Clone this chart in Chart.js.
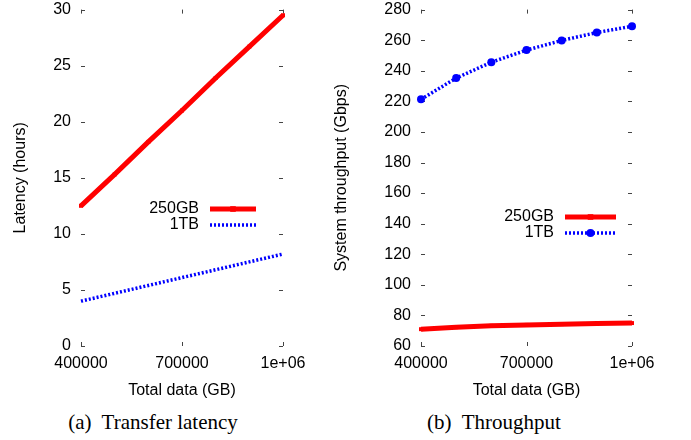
<!DOCTYPE html>
<html>
<head>
<meta charset="utf-8">
<script src="https://cdn.jsdelivr.net/npm/chart.js@4.4.0/dist/chart.umd.min.js"></script>
<style>
  body { margin: 0; background: #fff; width: 691px; height: 440px; position: relative; overflow: hidden; }
  .box { position: absolute; top: 0; height: 400px; }
  #boxA { left: 0; width: 320px; }
  #boxB { left: 320px; width: 371px; }
  .caption { position: absolute; top: 410px; font-family: "Liberation Serif", serif; font-size: 21px; color: #000;
             transform: translateX(-50%); white-space: nowrap; }
</style>
</head>
<body>
<div class="box" id="boxA"><canvas id="latencyChart"></canvas></div>
<div class="box" id="boxB"><canvas id="throughputChart"></canvas></div>
<div class="caption" style="left:153px">(a)&nbsp; Transfer latency</div>
<div class="caption" style="left:494px">(b)&nbsp; Throughput</div>

<script>
// data
const totalData = [400000, 500000, 600000, 700000, 800000, 900000, 1000000];
const latency250GB = [12.5, 15.3, 18.2, 21.0, 23.9, 26.7, 29.5];
const latency1TB = [4.0, 4.7, 5.4, 6.1, 6.8, 7.5, 8.2];
const throughput250GB = [71.0, 72.3, 73.2, 73.8, 74.3, 74.7, 75.0];
const throughput1TB = [221.3, 235.2, 245.6, 253.5, 259.8, 265.0, 269.1];

// tick
const xTicks = [400000, 700000, 1000000];
const xTickLabels = ['400000', '700000', '1e+06'];
const latencyTicks = [0, 5, 10, 15, 20, 25, 30];
const throughputTicks = [60, 80, 100, 120, 140, 160, 180, 200, 220, 240, 260, 280];

const FONT = '"Liberation Sans", Arial, sans-serif';

const toPoints = (ys) => totalData.map((x, i) => ({ x: x, y: ys[i] }));

// tick kecil ke dalam ala gnuplot
const gpTicks = {
    id: 'gpTicks',
    beforeDatasetsDraw(chart) {
        const { ctx, chartArea: a, scales } = chart;
        ctx.save();
        ctx.strokeStyle = '#444';
        ctx.lineWidth = 1;
        ctx.beginPath();
        scales.y.ticks.forEach(t => {
            const y = Math.round(scales.y.getPixelForValue(t.value)) + 0.5;
            ctx.moveTo(a.left, y); ctx.lineTo(a.left + 4, y);
            ctx.moveTo(a.right - 4, y); ctx.lineTo(a.right, y);
        });
        scales.x.ticks.forEach(t => {
            const x = Math.round(scales.x.getPixelForValue(t.value)) + 0.5;
            ctx.moveTo(x, a.bottom); ctx.lineTo(x, a.bottom - 4);
            ctx.moveTo(x, a.top); ctx.lineTo(x, a.top + 4);
        });
        ctx.stroke();
        ctx.restore();
    }
};

// legend: teks di kiri, contoh garis di kanan
const gpLegend = {
    id: 'gpLegend',
    afterDatasetsDraw(chart, args, opts) {
        const ctx = chart.ctx;
        ctx.save();
        ctx.font = '16px ' + FONT;
        ctx.textAlign = 'right';
        ctx.textBaseline = 'middle';
        chart.data.datasets.forEach((ds, i) => {
            const y = opts.y + i * opts.rowHeight;
            ctx.fillStyle = '#000';
            ctx.fillText(ds.label, opts.x, y);
            const x0 = opts.x + 11;
            const x1 = x0 + opts.sample;
            ctx.strokeStyle = ds.borderColor;
            ctx.lineWidth = ds.borderWidth;
            ctx.setLineDash(ds.borderDash || []);
            ctx.beginPath();
            ctx.moveTo(x0, y);
            ctx.lineTo(x1, y);
            ctx.stroke();
            ctx.setLineDash([]);
            if (ds.pointRadius > 0) {
                const r = ds.pointRadius;
                const xm = (x0 + x1) / 2;
                ctx.fillStyle = ds.pointBackgroundColor;
                ctx.beginPath();
                if (ds.pointStyle === 'circle') ctx.arc(xm, y, r, 0, Math.PI * 2);
                else ctx.rect(xm - r, y - r, r * 2, r * 2);
                ctx.fill();
            }
        });
        ctx.restore();
    }
};

function makeChart(canvasId, opt) {
    return new Chart(document.getElementById(canvasId), {
        type: 'line',
        data: { datasets: opt.datasets },
        plugins: [gpTicks, gpLegend],
        options: {
            responsive: true,
            maintainAspectRatio: false,
            animation: false,
            devicePixelRatio: 1,
            layout: { padding: { top: 0, bottom: 0, left: 0, right: opt.padRight } },
            plugins: {
                legend: { display: false },
                tooltip: { enabled: false },
                gpLegend: opt.legend
            },
            scales: {
                x: {
                    type: 'linear',
                    min: 400000,
                    max: 1000000,
                    afterBuildTicks: s => { s.ticks = xTicks.map(v => ({ value: v })); },
                    afterFit: s => { s.height = 54; },
                    grid: { drawOnChartArea: false, drawTicks: true, tickLength: 8, color: 'rgba(0,0,0,0)' },
                    border: { display: false },
                    ticks: {
                        padding: 0,
                        maxRotation: 0,
                        color: '#000',
                        font: { family: FONT, size: 16 },
                        callback: (v, i) => xTickLabels[i]
                    },
                    title: {
                        display: true,
                        text: 'Total data (GB)',
                        color: '#000',
                        font: { family: FONT, size: 16 },
                        padding: { top: 0, bottom: 0 }
                    }
                },
                y: {
                    min: opt.yTicks[0],
                    max: opt.yTicks[opt.yTicks.length - 1],
                    afterBuildTicks: s => { s.ticks = opt.yTicks.map(v => ({ value: v })); },
                    afterFit: s => { s.width = opt.yWidth; },
                    grid: { drawOnChartArea: false, drawTicks: true, tickLength: 10, color: 'rgba(0,0,0,0)' },
                    border: { display: false },
                    ticks: {
                        padding: 0,
                        color: '#000',
                        font: { family: FONT, size: 16 }
                    },
                    title: {
                        display: true,
                        text: opt.yTitle,
                        color: '#000',
                        font: { family: FONT, size: 16 },
                        padding: { top: opt.titlePad, bottom: 0 }
                    }
                }
            }
        }
    });
}

const latencyChart = makeChart('latencyChart', {
    yTicks: latencyTicks,
    yTitle: 'Latency (hours)',
    yWidth: 81,
    titlePad: 11,
    padRight: 37,
    legend: { x: 199, y: 209, rowHeight: 16, sample: 46 },
    datasets: [{
        label: '250GB',
        data: toPoints(latency250GB),
        borderColor: '#ff0000',
        borderWidth: 5,
        pointStyle: 'rect',
        pointRadius: 2.8,
        pointBorderWidth: 0,
        pointBackgroundColor: '#ff0000',
        pointBorderColor: '#ff0000',
        clip: false
    }, {
        label: '1TB',
        data: toPoints(latency1TB),
        borderColor: '#0000ff',
        borderWidth: 3.5,
        borderDash: [2, 2],
        pointRadius: 0,
        clip: false
    }]
});

const throughputChart = makeChart('throughputChart', {
    yTicks: throughputTicks,
    yTitle: 'System throughput (Gbps)',
    yWidth: 101,
    titlePad: 12,
    padRight: 59,
    legend: { x: 234, y: 217, rowHeight: 16, sample: 51 },
    datasets: [{
        label: '250GB',
        data: toPoints(throughput250GB),
        borderColor: '#ff0000',
        borderWidth: 5,
        pointStyle: 'rect',
        pointRadius: 2.8,
        pointBorderWidth: 0,
        pointBackgroundColor: '#ff0000',
        pointBorderColor: '#ff0000',
        clip: false
    }, {
        label: '1TB',
        data: toPoints(throughput1TB),
        borderColor: '#0000ff',
        borderWidth: 3.5,
        borderDash: [2, 2],
        pointStyle: 'circle',
        pointRadius: 4,
        pointBorderWidth: 0,
        pointBackgroundColor: '#0000ff',
        pointBorderColor: '#0000ff',
        clip: false
    }]
});
</script>
</body>
</html>
